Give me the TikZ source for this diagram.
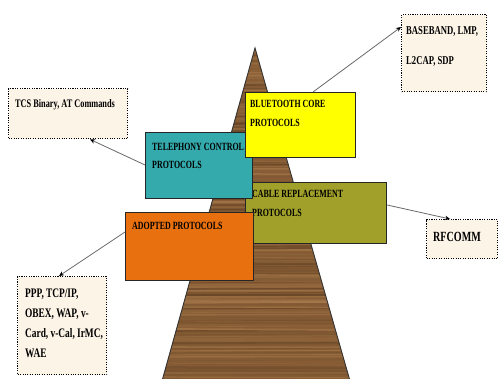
\documentclass[tikz,border=0pt]{standalone}
\usepackage{fontspec}
\setmainfont{Liberation Serif}[FakeStretch=0.72]
\usetikzlibrary{arrows.meta}
\definecolor{woodbase}{RGB}{135,92,52}
\definecolor{wooddark}{RGB}{80,52,28}
\definecolor{woodlight}{RGB}{175,130,82}
\definecolor{cyellow}{RGB}{255,255,0}
\definecolor{cteal}{RGB}{52,170,172}
\definecolor{colive}{RGB}{160,160,42}
\definecolor{corange}{RGB}{232,112,14}
\definecolor{cream}{RGB}{252,244,230}
\definecolor{linegray}{RGB}{105,105,105}
\tikzset{
  layerbox/.style={draw=black!85, line width=1.2pt, anchor=north west, inner sep=0pt},
  callout/.style={draw=black, fill=cream, line width=1.4pt, dash pattern=on 1.1pt off 1.3pt, anchor=north west, inner sep=0pt},
  lbl/.style={anchor=north west, inner sep=0pt, align=left, font=\bfseries\fontsize{11}{19}\selectfont},
  conn/.style={draw=linegray, line width=0.8pt, -{Stealth[length=5pt,width=4.5pt,color=black]}}
}
\begin{document}
\begin{tikzpicture}[x=1pt,y=1pt]
\useasboundingbox[fill=white] (0,0) rectangle (500,379);
% wooden pyramid
\begin{scope}
  \clip (255,331) -- (350,-2) -- (162,-2) -- cycle;
  \fill[woodbase] (150,-5) rectangle (360,335);
  \pgfmathsetseed{11}
  \foreach \i in {0,...,170}{
    \pgfmathsetmacro\yy{-2+2*\i}
    \pgfmathsetmacro\pc{int(100*rnd)}
    \pgfmathsetmacro\lw{0.6+1.6*rnd}
    \pgfmathsetmacro\dy{rand*1.5}
    \draw[wooddark!\pc!woodlight, line width=\lw pt, opacity=0.55] (150,\yy) -- (360,\yy+\dy);
  }
\end{scope}
\draw[black!80, line width=0.9pt] (162,-2) -- (255,331) -- (350,-2);
% protocol layers
\node[layerbox, fill=colive, minimum width=141, minimum height=61] (cable) at (245,197) {};
\node[lbl] (cabletxt) at (252,189) {CABLE REPLACEMENT\\PROTOCOLS};
\node[layerbox, fill=cteal, minimum width=107, minimum height=66] (tele) at (145,247) {};
\node[lbl, font=\bfseries\fontsize{11}{18}\selectfont] (teletxt) at (152,236) {TELEPHONY CONTROL\\PROTOCOLS};
\node[layerbox, fill=corange, minimum width=128, minimum height=68] (adopt) at (125,167) {};
\node[lbl] (adopttxt) at (132,157) {ADOPTED PROTOCOLS};
\node[layerbox, fill=cyellow, minimum width=110, minimum height=65] (core) at (245,287) {};
\node[lbl] (coretxt) at (250,279) {BLUETOOTH CORE\\PROTOCOLS};
% callouts
\node[callout, minimum width=85, minimum height=77] (base) at (401,365) {};
\node[lbl, font=\bfseries\fontsize{12}{30}\selectfont] (basetxt) at (406,353) {BASEBAND, LMP,\\L2CAP, SDP};
\node[callout, minimum width=119, minimum height=50] (tcs) at (8,291) {};
\node[lbl, font=\bfseries\fontsize{11.5}{19}\selectfont] (tcstxt) at (15,280) {TCS Binary, AT Commands};
\node[callout, minimum width=71, minimum height=39] (rf) at (426,160) {};
\node[lbl, font=\bfseries\fontsize{14}{19}\selectfont] (rftxt) at (433,147) {RFCOMM};
\node[callout, minimum width=89, minimum height=98] (app) at (17,103) {};
\node[lbl, font=\bfseries\fontsize{13}{20}\selectfont] (apptxt) at (25,90) {PPP, TCP/IP,\\OBEX, WAP, v-\\Card, v-Cal, IrMC,\\WAE};
% connectors
\draw[conn] ([xshift=68pt]core.north west) -- ([yshift=-13pt]base.north west);
\draw[conn] ([yshift=-33pt]tele.north west) -- ([xshift=82pt]tcs.south west);
\draw[conn] ([yshift=-20pt]adopt.north west) -- ([xshift=42pt]app.north west);
\draw[conn] ([yshift=-23pt]cable.north east) -- ([xshift=24pt]rf.north west);
\end{tikzpicture}
\end{document}
